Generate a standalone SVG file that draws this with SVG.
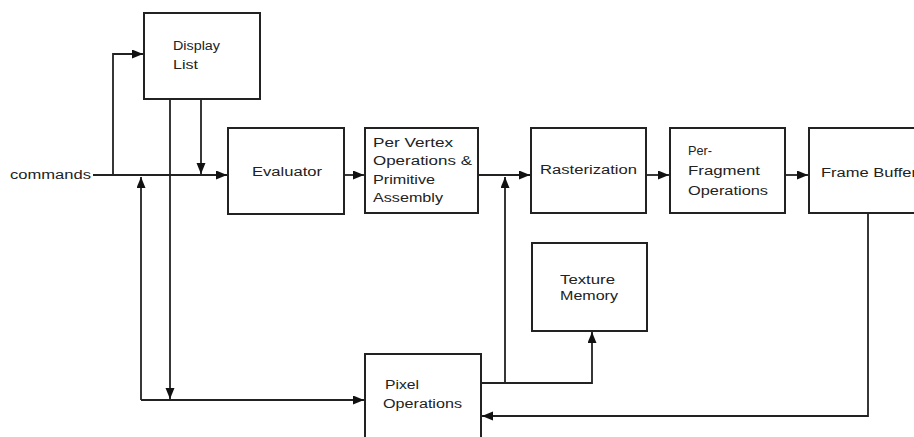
<svg xmlns="http://www.w3.org/2000/svg" width="914" height="437" viewBox="0 0 914 437">
<defs>
<style>
.box{fill:#fff;stroke:#222;stroke-width:2}
.ln{fill:none;stroke:#222;stroke-width:1.8}
text{font-family:"Liberation Sans",Arial,sans-serif;font-size:12px;fill:#222}
</style>
<marker id="arr" markerUnits="userSpaceOnUse" markerWidth="12" markerHeight="10" refX="11" refY="4.5" orient="auto">
<path d="M0,0 L11,4.5 L0,9 z" fill="#111"/>
</marker>
</defs>
<rect width="914" height="437" fill="#fff"/>
<g id="connectors">
<path class="ln" d="M93,175 L227,175" marker-end="url(#arr)"/>
<path class="ln" d="M113,175 L113,54 L143,54" marker-end="url(#arr)"/>
<path class="ln" d="M201,99 L201,174" marker-end="url(#arr)"/>
<path class="ln" d="M170,99 L170,399" marker-end="url(#arr)"/>
<path class="ln" d="M141,400 L141,177" marker-end="url(#arr)"/>
<path class="ln" d="M141,400 L364,400" marker-end="url(#arr)"/>
<path class="ln" d="M344,175 L364,175" marker-end="url(#arr)"/>
<path class="ln" d="M478,175 L530,175" marker-end="url(#arr)"/>
<path class="ln" d="M481,383 L505,383 L505,177" marker-end="url(#arr)"/>
<path class="ln" d="M505,383 L592,383 L592,332" marker-end="url(#arr)"/>
<path class="ln" d="M646,175 L669,175" marker-end="url(#arr)"/>
<path class="ln" d="M785,175 L808,175" marker-end="url(#arr)"/>
<path class="ln" d="M868,213 L868,416 L482,416" marker-end="url(#arr)"/>
</g>
<text x="10" y="179" textLength="81" lengthAdjust="spacingAndGlyphs">commands</text>
<g id="display-list">
<rect class="box" x="144" y="13" width="116" height="86"/>
<text x="173" y="50" textLength="47" lengthAdjust="spacingAndGlyphs">Display</text>
<text x="173" y="69" textLength="25" lengthAdjust="spacingAndGlyphs">List</text>
</g>
<g id="evaluator">
<rect class="box" x="228" y="128" width="116" height="86"/>
<text x="252" y="176" textLength="70" lengthAdjust="spacingAndGlyphs">Evaluator</text>
</g>
<g id="per-vertex">
<rect class="box" x="365" y="128" width="113" height="85"/>
<text x="373" y="147" textLength="80" lengthAdjust="spacingAndGlyphs">Per Vertex</text>
<text x="373" y="165" textLength="99" lengthAdjust="spacingAndGlyphs">Operations &amp;</text>
<text x="373" y="184" textLength="62" lengthAdjust="spacingAndGlyphs">Primitive</text>
<text x="373" y="202" textLength="70" lengthAdjust="spacingAndGlyphs">Assembly</text>
</g>
<g id="rasterization">
<rect class="box" x="531" y="128" width="115" height="85"/>
<text x="540" y="174" textLength="97" lengthAdjust="spacingAndGlyphs">Rasterization</text>
</g>
<g id="per-fragment">
<rect class="box" x="670" y="128" width="115" height="85"/>
<text x="688" y="155" textLength="24" lengthAdjust="spacingAndGlyphs">Per-</text>
<text x="688" y="175" textLength="72" lengthAdjust="spacingAndGlyphs">Fragment</text>
<text x="688" y="195" textLength="80" lengthAdjust="spacingAndGlyphs">Operations</text>
</g>
<g id="frame-buffer">
<rect class="box" x="809" y="128" width="120" height="85"/>
<text x="821" y="177" textLength="96" lengthAdjust="spacingAndGlyphs">Frame Buffer</text>
</g>
<g id="texture-memory">
<rect class="box" x="532" y="243" width="115" height="88"/>
<text x="560" y="284" textLength="55" lengthAdjust="spacingAndGlyphs">Texture</text>
<text x="560" y="300" textLength="58" lengthAdjust="spacingAndGlyphs">Memory</text>
</g>
<g id="pixel-operations">
<rect class="box" x="365" y="354" width="116" height="95"/>
<text x="385" y="389" textLength="34" lengthAdjust="spacingAndGlyphs">Pixel</text>
<text x="383" y="408" textLength="79" lengthAdjust="spacingAndGlyphs">Operations</text>
</g>
</svg>
